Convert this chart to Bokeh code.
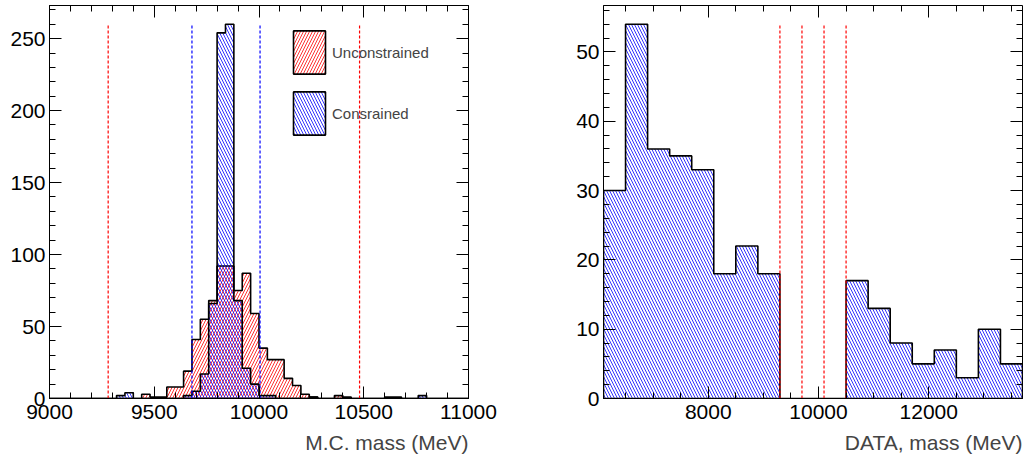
from bokeh.plotting import figure
from bokeh.models import (Range1d, LinearAxis, SingleIntervalTicker, Legend,
                          LegendItem, Title, CustomJSTickFormatter)
from bokeh.layouts import row
from bokeh.embed import file_html
from bokeh.resources import INLINE

# ---------------- data ----------------
mc_lo, mc_hi, mc_nbins = 9000, 11000, 50
mc_unconstrained = [0, 0, 0, 0, 0, 0, 0, 0, 0, 0,
                    0, 3, 1, 1, 8, 8, 19, 41, 55, 68,
                    92, 92, 75, 87, 59, 35, 27, 27, 14, 9,
                    3, 1, 0, 0, 2, 1, 0, 0, 0, 0,
                    1, 1, 0, 0, 0, 0, 0, 0, 0, 0]
mc_constrained = [0, 0, 0, 0, 0, 0, 0, 0, 2, 4,
                  0, 0, 0, 0, 0, 0, 2, 5, 17, 66,
                  254, 260, 68, 21, 10, 2, 2, 0, 0, 0,
                  0, 1, 0, 0, 0, 0, 0, 0, 0, 0,
                  0, 0, 0, 0, 2, 0, 0, 0, 0, 0]
mc_red_cuts = [9280, 10480]
mc_blue_cuts = [9680, 10005]
mc_labels = ["Unconstrained", "Consrained"]
mc_title = "M.C. mass (MeV)"

data_lo, data_hi, data_nbins = 6100, 13700, 19
data_counts = [30, 54, 36, 35, 33, 18, 22, 18, 0, 0,
               0, 17, 13, 8, 5, 7, 3, 10, 5]
data_cuts = [9300, 9700, 10100, 10500]
data_title = "DATA, mass (MeV)"

FONT = "Liberation Sans"
FIG_H = 470
HATCH_SCALE = 6
HATCH_W = 0.8


def edges_of(lo, hi, n):
    w = (hi - lo) / n
    return [lo + w * i for i in range(n + 1)]


def outline(edges, vals):
    xs = [edges[0]]
    ys = [0]
    for i, v in enumerate(vals):
        xs += [edges[i], edges[i + 1]]
        ys += [v, v]
    xs.append(edges[-1])
    ys.append(0)
    return xs, ys


def style_axis(ax, interval, nminor, show_labels):
    ax.ticker = SingleIntervalTicker(interval=interval, num_minor_ticks=nminor)
    ax.major_tick_in = 12
    ax.major_tick_out = 0
    ax.minor_tick_in = 6
    ax.minor_tick_out = 0
    ax.major_tick_line_color = "black"
    ax.minor_tick_line_color = "black"
    ax.axis_line_color = "black"
    ax.major_label_text_font = FONT
    ax.major_label_text_color = "black"
    if show_labels:
        ax.major_label_text_font_size = "21px"
    else:
        ax.formatter = CustomJSTickFormatter(code="return ''")
        ax.major_label_standoff = 0
        ax.axis_line_color = None


def make_fig(width, xlo, xhi, ymax, xint, xminor, yint, yminor, bl, br):
    p = figure(width=width, height=FIG_H, output_backend="svg", toolbar_location=None,
               x_range=Range1d(xlo, xhi), y_range=Range1d(0, ymax),
               min_border_left=bl, min_border_right=br, min_border_top=5,
               min_border_bottom=72)
    p.xgrid.visible = False
    p.ygrid.visible = False
    p.outline_line_color = "black"
    p.outline_line_width = 1
    p.background_fill_color = "white"
    p.border_fill_color = "white"
    style_axis(p.xaxis[0], xint, xminor, True)
    style_axis(p.yaxis[0], yint, yminor, True)
    p.xaxis[0].major_label_standoff = 6
    p.yaxis[0].major_label_standoff = 4
    top = LinearAxis()
    style_axis(top, xint, xminor, False)
    p.add_layout(top, "above")
    right = LinearAxis()
    style_axis(right, yint, yminor, False)
    p.add_layout(right, "right")
    return p


# ---------------- left: M.C. ----------------
mc_edges = edges_of(mc_lo, mc_hi, mc_nbins)
mc_max = max(max(mc_unconstrained), max(mc_constrained))
p1 = make_fig(530, mc_lo, mc_hi, 1.05 * mc_max, 500, 5, 50, 5, 49, 62)

xs, ys = outline(mc_edges, mc_unconstrained)
r_red = p1.patch(xs, ys, fill_color=None, hatch_pattern="/", hatch_color="red",
                 hatch_scale=HATCH_SCALE, hatch_weight=HATCH_W,
                 line_color="black", line_width=1.6)
xs, ys = outline(mc_edges, mc_constrained)
r_blue = p1.patch(xs, ys, fill_color=None, hatch_pattern="\\", hatch_color="blue",
                  hatch_scale=HATCH_SCALE, hatch_weight=HATCH_W,
                  line_color="black", line_width=1.6)

p1.segment(x0=mc_red_cuts, y0=[0] * len(mc_red_cuts), x1=mc_red_cuts,
           y1=[mc_max] * len(mc_red_cuts), line_color="red", line_dash="3 2", line_width=1.2)
p1.segment(x0=mc_blue_cuts, y0=[0] * len(mc_blue_cuts), x1=mc_blue_cuts,
           y1=[mc_max] * len(mc_blue_cuts), line_color="blue", line_dash="3 2", line_width=1.2)

legend = Legend(items=[LegendItem(label=mc_labels[0], renderers=[r_red]),
                       LegendItem(label=mc_labels[1], renderers=[r_blue])],
                location=(240, 258), glyph_width=40, glyph_height=54, label_height=54,
                spacing=7, padding=0, margin=0, border_line_color=None,
                background_fill_alpha=0, label_text_font=FONT,
                label_text_font_size="15px", label_standoff=3)
p1.add_layout(legend)
p1.add_layout(Title(text=mc_title, align="right", text_font=FONT, text_font_size="21px",
                    text_font_style="normal", standoff=14), "below")

# ---------------- right: DATA ----------------
data_edges = edges_of(data_lo, data_hi, data_nbins)
data_max = max(data_counts)
p2 = make_fig(497, data_lo, data_hi, 1.05 * data_max, 2000, 4, 10, 5, 73, 5)
xs, ys = outline(data_edges, data_counts)
p2.patch(xs, ys, fill_color=None, hatch_pattern="\\", hatch_color="blue",
         hatch_scale=HATCH_SCALE, hatch_weight=HATCH_W, line_color="black", line_width=1.6)
p2.segment(x0=data_cuts, y0=[0] * len(data_cuts), x1=data_cuts,
           y1=[data_max] * len(data_cuts), line_color="red", line_dash="3 2", line_width=1.2)
p2.add_layout(Title(text=data_title, align="right", text_font=FONT, text_font_size="21px",
                    text_font_style="normal", standoff=14), "below")

layout = row(p1, p2)
open("out.html", "w").write(file_html(layout, INLINE))
